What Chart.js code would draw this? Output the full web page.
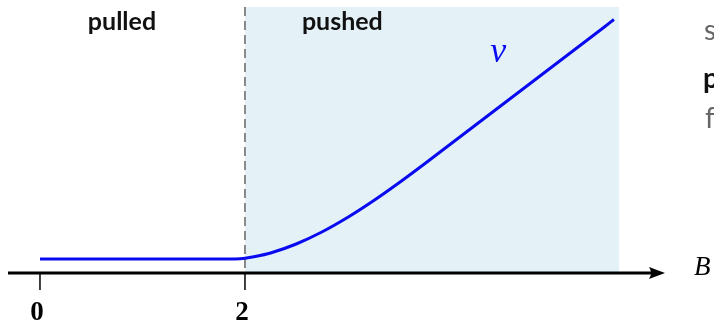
<!DOCTYPE html>
<html>
<head>
<meta charset="utf-8">
<script src="https://cdn.jsdelivr.net/npm/chart.js@4.4.1/dist/chart.umd.min.js"></script>
<style>
  html, body { margin: 0; padding: 0; background: #fff; }
  #wrap { width: 714px; height: 320px; position: relative; }
</style>
</head>
<body>
<div id="wrap"><canvas id="vChart" width="714" height="320"></canvas></div>
<script>
// B values along the axis and the speed v
const bValues = [0, 1, 1.8, 1.9, 2, 2.1, 2.25, 2.5, 2.75, 3, 3.25, 3.5, 3.75, 4, 4.25, 4.5, 4.75, 5, 5.25, 5.5, 5.6]
const vValues = [0.14, 0.14, 0.14, 0.141, 0.148, 0.165, 0.20, 0.29, 0.41, 0.555, 0.72, 0.90, 1.09, 1.285, 1.48, 1.675, 1.87, 2.065, 2.26, 2.455, 2.535]
const tickValues = [0, 2]
const tickLabels = ['0', '2']
const regionLabels = ['pulled', 'pushed']
const boundary = 2
const pushedEnd = 5.65

const points = bValues.map((b, i) => ({ x: b, y: vValues[i] }))

const decorations = {
    id: 'decorations',
    beforeDatasetsDraw(chart) {
        const ctx = chart.ctx
        const xs = chart.scales.x
        const ys = chart.scales.y
        const x2 = xs.getPixelForValue(boundary)
        const xEnd = xs.getPixelForValue(pushedEnd)
        const top = ys.getPixelForValue(ys.max)
        const base = ys.getPixelForValue(0)
        ctx.save()
        // shaded pushed region
        ctx.fillStyle = '#e4f2f7'
        ctx.fillRect(x2, top, xEnd - x2, base - top)
        // dashed boundary
        ctx.strokeStyle = '#666'
        ctx.lineWidth = 1.5
        ctx.setLineDash([9, 5])
        ctx.beginPath()
        ctx.moveTo(x2, top)
        ctx.lineTo(x2, base)
        ctx.stroke()
        ctx.restore()
    },
    afterDatasetsDraw(chart) {
        const ctx = chart.ctx
        const xs = chart.scales.x
        const ys = chart.scales.y
        const base = ys.getPixelForValue(0)
        const left = chart.chartArea.left
        const right = chart.chartArea.right
        ctx.save()
        // x axis with arrow
        ctx.strokeStyle = '#000'
        ctx.lineWidth = 3
        ctx.beginPath()
        ctx.moveTo(left, base)
        ctx.lineTo(right - 10, base)
        ctx.stroke()
        ctx.fillStyle = '#000'
        ctx.beginPath()
        ctx.moveTo(right, base)
        ctx.lineTo(right - 16, base - 6)
        ctx.quadraticCurveTo(right - 12, base, right - 16, base + 6)
        ctx.closePath()
        ctx.fill()
        // ticks and labels
        ctx.lineWidth = 1.5
        ctx.font = 'bold 27px "Liberation Serif"'
        ctx.textAlign = 'center'
        ctx.textBaseline = 'alphabetic'
        tickValues.forEach((t, i) => {
            const px = xs.getPixelForValue(t)
            ctx.beginPath()
            ctx.moveTo(px, base)
            ctx.lineTo(px, base + 17)
            ctx.stroke()
            ctx.fillText(tickLabels[i], px - 3, 320)
        })
        // axis name
        ctx.font = 'italic 27px "Liberation Serif"'
        ctx.textAlign = 'left'
        ctx.fillText('B', 694, 275)
        // region labels
        ctx.font = 'bold 25px Lato'
        ctx.fillStyle = '#111'
        ctx.textAlign = 'center'
        ctx.fillText(regionLabels[0], xs.getPixelForValue(0.8), 30)
        ctx.fillText(regionLabels[1], xs.getPixelForValue(2.95), 30)
        // curve name
        ctx.font = 'italic 36px "Liberation Serif"'
        ctx.fillStyle = 'rgb(10,10,240)'
        ctx.fillText('v', xs.getPixelForValue(4.47), 62)
        // cut-off text from the neighbouring column
        ctx.textAlign = 'left'
        ctx.font = '28px Lato'
        ctx.fillStyle = '#666'
        ctx.fillText('s', 704, 40)
        ctx.fillText('f', 705, 128)
        ctx.font = 'bold 28px Lato'
        ctx.fillStyle = '#111'
        ctx.fillText('p', 703, 88)
        ctx.restore()
    }
}

const data = {
    datasets: [
        {
            label: 'v',
            data: points,
            borderColor: 'rgb(10, 10, 240)',
            backgroundColor: 'rgb(10, 10, 240)',
            borderWidth: 3,
            pointRadius: 0,
            showLine: true,
            fill: false,
            cubicInterpolationMode: 'monotone'
        }
    ]
}

const config = {
    type: 'scatter',
    data: data,
    options: {
        responsive: false,
        animation: false,
        layout: { padding: { left: 8, right: 49, top: 7, bottom: 47 } },
        plugins: { legend: { display: false }, tooltip: { enabled: false } },
        scales: {
            x: { type: 'linear', min: -0.312, max: 6.098, display: false },
            y: { type: 'linear', min: 0, max: 2.66, display: false }
        }
    },
    plugins: [decorations]
}

new Chart(document.getElementById('vChart').getContext('2d'), config)
</script>
</body>
</html>
